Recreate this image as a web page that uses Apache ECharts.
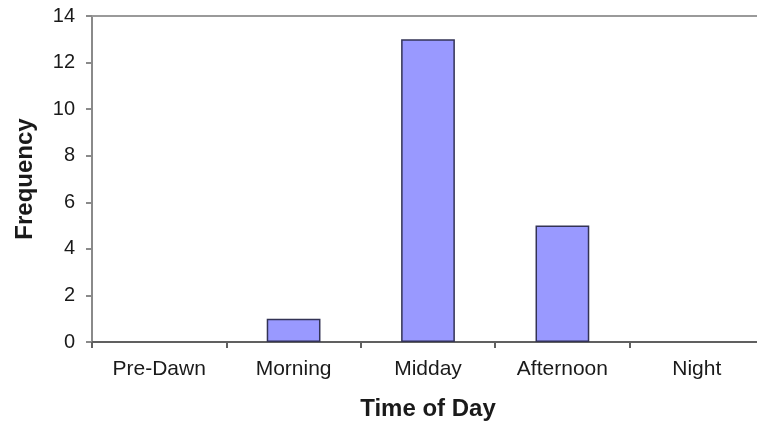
<!DOCTYPE html>
<html><head><meta charset="utf-8">
<script src="https://cdn.jsdelivr.net/npm/echarts@6/dist/echarts.min.js"></script>
<style>html,body{margin:0;padding:0;background:#fff}#c{width:757px;height:423px}</style>
</head><body><div id="c"></div>
<script>
const categories = ["Pre-Dawn", "Morning", "Midday", "Afternoon", "Night"];
const frequency = [0, 1, 13, 5, 0];
const yTicks = [0, 2, 4, 6, 8, 10, 12, 14];

const chart = echarts.init(document.getElementById('c'), null, {renderer: 'canvas'});
const font = 'Liberation Sans, Arial, sans-serif';
chart.setOption({
  animation: false,
  grid: {left: 92, top: 16, width: 672, bottom: 81, containLabel: false, outerBoundsMode: 'none'},
  xAxis: [{
    type: 'category',
    data: categories,
    position: 'bottom',
    name: 'Time of Day',
    nameLocation: 'middle',
    nameGap: 55,
    nameTextStyle: {fontFamily: font, fontSize: 24, fontWeight: 'bold', color: '#1a1a1a'},
    axisLine: {lineStyle: {color: '#606060', width: 2}},
    axisTick: {show: true, alignWithLabel: false, length: 6, lineStyle: {color: '#606060', width: 2}},
    axisLabel: {fontFamily: font, fontSize: 21, color: '#1a1a1a', margin: 17},
    splitLine: {show: false}
  }, {
    type: 'category',
    data: categories,
    position: 'top',
    axisLine: {lineStyle: {color: '#9a9a9a', width: 2}},
    axisTick: {show: false},
    axisLabel: {show: false}
  }],
  yAxis: {
    type: 'value',
    min: yTicks[0],
    max: yTicks[yTicks.length - 1],
    interval: 2,
    name: 'Frequency',
    nameLocation: 'middle',
    nameGap: 55,
    nameRotate: 90,
    nameTextStyle: {fontFamily: font, fontSize: 24, fontWeight: 'bold', color: '#1a1a1a'},
    axisLine: {show: true, lineStyle: {color: '#8a8a8a', width: 2}},
    axisTick: {show: true, length: 6, lineStyle: {color: '#8a8a8a', width: 2}},
    axisLabel: {fontFamily: font, fontSize: 20, color: '#1a1a1a', margin: 17},
    splitLine: {show: false}
  },
  series: [{
    type: 'bar',
    data: frequency.map(v => ({value: v, itemStyle: v === 0 ? {borderWidth: 0} : {}})),
    barWidth: '40%',
    itemStyle: {color: '#9999ff', borderColor: '#333355', borderWidth: 1.5}
  }]
});
</script></body></html>
